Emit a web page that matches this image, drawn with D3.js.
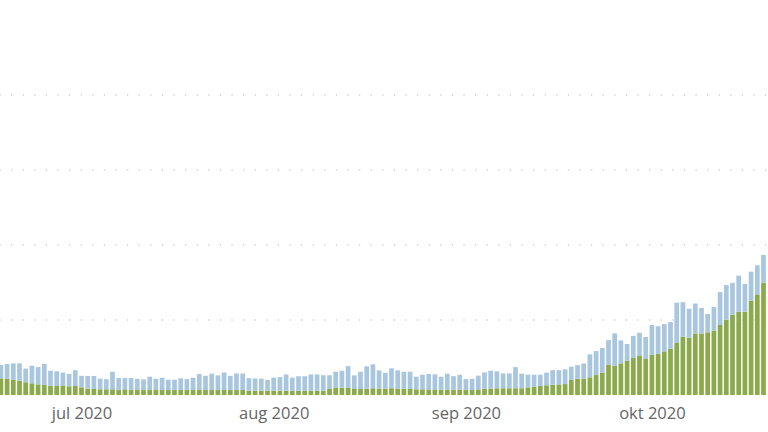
<!DOCTYPE html>
<html>
<head>
<meta charset="utf-8">
<script src="https://cdn.jsdelivr.net/npm/d3@7"></script>
<style>
html,body{margin:0;padding:0;background:#ffffff;}
svg{display:block;}
.tick text{font-family:"Open Sans","Noto Sans",sans-serif;}
</style>
</head>
<body>
<svg id="chart" width="768" height="432"></svg>
<script>
// ---- data ----
const startDate = "2020-06-18";
const green = [111,107,100,95,85,78,71,67,62,60,60,58,60,51,42,40,38,38,38,33,
38,33,33,33,33,33,33,33,33,33,33,33,33,33,33,33,33,33,33,33,
29,29,29,29,29,29,29,29,29,29,29,29,29,40,47,49,47,40,40,42,
45,43,43,45,43,42,40,38,38,37,37,35,35,35,35,33,33,37,42,43,
45,45,45,45,45,51,55,60,65,69,71,73,100,109,109,118,133,150,203,195,
211,227,247,260,240,267,273,291,309,350,389,383,410,410,418,430,467,502,535,555,
555,630,671,748];
const blue = [89,100,111,116,91,117,115,140,100,98,89,82,105,77,85,87,71,67,117,80,
75,80,75,71,89,75,82,69,69,78,73,82,107,95,109,98,117,95,111,110,
83,81,80,71,87,90,108,87,96,96,108,108,103,92,108,113,145,91,115,149,
160,121,105,133,121,113,115,84,97,103,101,87,107,91,100,73,75,92,109,119,
113,99,99,141,97,85,80,75,84,97,95,98,89,90,101,153,160,163,163,216,
153,113,147,155,147,200,185,182,177,265,230,192,200,170,122,157,219,231,213,241,
185,192,194,185];
const seriesKeys = ["green","blue"];
const seriesColors = ["#8aaa4c","#a9c6df"];
const gridValues = [500,1000,1500,2000];
const tickLabels = ["jul 2020","aug 2020","sep 2020","okt 2020"];
const tickDates = ["2020-07-01","2020-08-01","2020-09-01","2020-10-01"];

// ---- build table ----
const parse = d3.timeParse("%Y-%m-%d");
const d0 = parse(startDate);
const rows = green.map((g,i)=>({date:d3.timeDay.offset(d0,i), green:g, blue:blue[i]}));

const svg = d3.select("#chart");
const W = 768, H = 432;
const baseY = 395, topY = 20;

const x = d3.scaleTime()
  .domain([rows[0].date, rows[rows.length-1].date])
  .range([0.9, 763.5]);
const step = (x.range()[1]-x.range()[0])/(rows.length-1);
const barW = step*0.76;

const y = d3.scaleLinear().domain([0,2500]).range([baseY, topY]);

// gridlines
svg.append("g").selectAll("line").data(gridValues).join("line")
  .attr("x1",0).attr("x2",W)
  .attr("y1",d=>y(d)).attr("y2",d=>y(d))
  .attr("stroke","#c4c4c4").attr("stroke-width",1.3)
  .attr("stroke-linecap","round")
  .attr("stroke-dasharray","0.1,11.5");

// stacked bars
const stack = d3.stack().keys(seriesKeys)(rows);
svg.append("g").selectAll("g").data(stack).join("g")
  .attr("fill",(d,i)=>seriesColors[i])
  .selectAll("rect").data(d=>d).join("rect")
  .attr("x",d=>x(d.data.date)-barW/2)
  .attr("width",barW)
  .attr("y",d=>y(d[1]))
  .attr("height",d=>y(d[0])-y(d[1]));

// x axis
const ticks = tickDates.map(parse);
const axis = d3.axisBottom(x)
  .tickValues(ticks)
  .tickFormat((d,i)=>tickLabels[i])
  .tickSize(0)
  .tickPadding(0);
const gx = svg.append("g").attr("transform",`translate(0,${baseY})`).call(axis);
gx.select(".domain").remove();
gx.selectAll(".tick text")
  .attr("dy",null)
  .attr("y",24)
  .attr("fill","#666666")
  .style("font-size","16.5px");
</script>
</body>
</html>
